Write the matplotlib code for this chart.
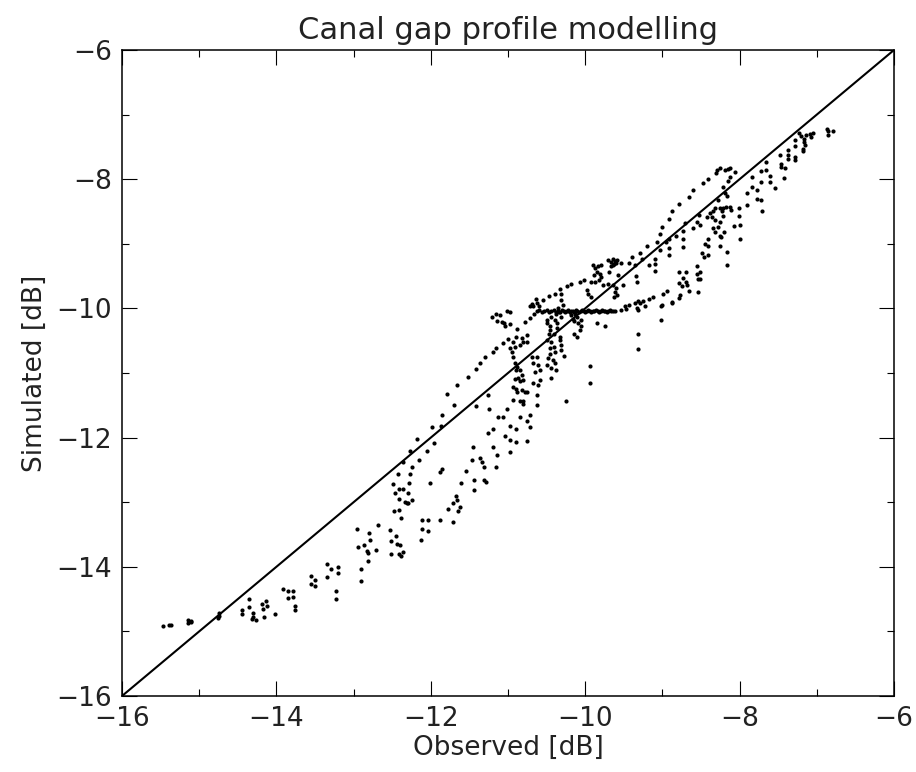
import numpy as np
import matplotlib.pyplot as plt
from matplotlib.ticker import MultipleLocator

# low tail (obs < -13.3 dB)
tail_obs = [-15.47, -15.39, -15.36, -15.14, -15.11, -15.14, -15.11,
            -14.76, -14.74, -14.75, -14.45, -14.45, -14.35, -14.35,
            -14.30, -14.30, -14.31, -14.27, -14.19, -14.18, -14.13, -14.12, -14.16,
            -14.02, -13.91, -13.85, -13.79, -13.85, -13.79, -13.76, -13.76,
            -13.55, -13.50, -13.55, -13.50, -13.35, -13.29, -13.20, -13.20, -13.35,
            -13.23, -13.23, -12.90, -12.90, -12.81]
tail_sim = [-14.92, -14.90, -14.90, -14.83, -14.84, -14.87, -14.86,
            -14.79, -14.72, -14.76, -14.67, -14.73, -14.50, -14.62,
            -14.71, -14.78, -14.81, -14.82, -14.58, -14.65, -14.53, -14.61, -14.78,
            -14.73, -14.35, -14.38, -14.38, -14.48, -14.46, -14.60, -14.67,
            -14.15, -14.20, -14.27, -14.29, -13.95, -14.03, -14.00, -14.10, -14.16,
            -14.38, -14.50, -14.04, -14.22, -13.91]

# lower band, -13 .. -11.5 dB
low_obs = [-11.98, -11.87, -12.18, -11.96, -12.27, -12.05, -12.36, -12.15, -12.24,
           -12.42, -12.27, -12.49, -12.28, -12.41, -12.36, -12.46, -12.30, -12.25,
           -12.33, -12.31, -12.29, -12.41, -12.48, -12.41, -12.38,
           -11.88, -11.85, -12.01, -12.11, -12.04, -12.12, -12.04, -12.13, -11.88,
           -12.68, -12.95, -12.80, -12.79, -12.87, -12.94, -12.83, -12.81, -12.71,
           -12.53, -12.52, -12.52, -12.45, -12.44, -12.40, -12.41, -12.39, -12.36,
           -11.78, -11.71, -11.67, -11.66, -11.65, -11.62, -11.71, -11.61, -11.55,
           -11.44, -11.44, -11.34, -11.31, -11.31, -11.29, -11.15]
low_sim = [-11.83, -11.82, -12.02, -12.08, -12.21, -12.21, -12.38, -12.34, -12.46,
           -12.57, -12.57, -12.72, -12.71, -12.80, -12.80, -12.85, -12.86, -12.97,
           -12.99, -13.02, -13.01, -12.95, -13.13, -13.12, -13.25,
           -12.53, -12.49, -12.70, -13.28, -13.27, -13.41, -13.44, -13.58, -13.28,
           -13.36, -13.42, -13.47, -13.58, -13.66, -13.70, -13.75, -13.79, -13.74,
           -13.43, -13.60, -13.80, -13.53, -13.64, -13.66, -13.80, -13.83, -13.77,
           -13.10, -13.01, -12.90, -12.96, -13.14, -13.07, -13.30, -12.71, -12.51,
           -12.65, -12.81, -12.37, -12.45, -12.65, -12.68, -12.46]

# centre, -11.9 .. -9.5 dB
mid_obs = [-11.85, -11.70, -11.79, -11.66, -11.52, -11.42, -11.36, -11.30, -11.20,
           -11.16, -11.07, -11.00, -10.88, -10.78, -10.72, -10.66,
           -10.64, -10.55, -10.47, -10.39, -10.33, -10.31, -10.23, -10.18, -10.07,
           -10.02, -10.31, -10.29, -10.35, -9.97, -9.92, -9.98,
           -10.72, -10.67, -10.60, -10.69, -10.63,
           -11.21, -11.15, -11.10, -11.08, -11.14, -11.05, -11.01, -10.97, -11.04, -10.98,
           -10.50, -10.49, -10.46, -10.44, -10.39, -10.38, -10.37, -10.34, -10.31,
           -10.46, -10.47, -10.41, -10.37,
           -10.20, -10.18, -10.16, -10.13, -10.11, -10.15, -10.09, -10.05, -10.15,
           -10.11, -10.05, -10.07, -9.85, -9.74, -9.94, -9.94, -10.25,
           -10.49, -10.44, -10.46, -10.41, -10.39, -10.46, -10.48, -10.42, -10.39,
           -10.44, -10.38, -10.50, -10.44, -10.33, -10.31, -10.31, -10.28, -10.32,
           -10.97, -10.95, -10.94, -10.91, -10.93, -10.85, -10.89, -10.82, -10.80,
           -10.76, -10.75, -10.91, -10.88, -10.85, -10.82, -10.87, -10.80, -10.91,
           -10.94, -10.89, -10.88, -10.82, -10.78, -10.76, -10.89, -10.85,
           -10.69, -10.63, -10.67, -10.61, -10.65, -10.59, -10.68, -10.61, -10.63, -10.59,
           -11.26, -11.41, -11.24, -11.13, -11.06, -11.01, -10.97, -10.89, -10.84,
           -10.81, -10.72, -10.75, -10.71, -11.20, -11.26, -11.04, -10.97, -10.89,
           -10.75, -10.63, -11.19, -11.45, -11.14, -10.97, -11.36, -11.47,
           -10.93, -10.85, -10.81]
mid_sim = [-11.65, -11.49, -11.33, -11.19, -11.06, -10.94, -10.85, -10.76, -10.67,
           -10.62, -10.54, -10.48, -10.32, -10.21, -10.15, -10.09,
           -9.86, -9.87, -9.81, -9.77, -9.70, -9.77, -9.65, -9.62, -9.59,
           -9.56, -9.87, -9.95, -9.99, -9.77, -9.82, -9.72,
           -9.97, -9.96, -9.97, -9.93, -9.91,
           -10.14, -10.08, -10.10, -10.21, -10.19, -10.23, -10.04, -10.05, -10.28, -10.24,
           -10.18, -10.23, -10.28, -10.13, -10.18, -10.08, -10.23, -10.05, -10.13,
           -10.33, -10.39, -10.39, -10.31,
           -10.05, -10.10, -10.17, -10.08, -10.14, -10.19, -10.23, -10.18, -10.39,
           -10.44, -10.28, -10.33, -10.23, -10.27, -10.89, -11.16, -11.44,
           -10.49, -10.52, -10.62, -10.59, -10.67, -10.70, -10.77, -10.80, -10.85,
           -10.93, -10.95, -10.88, -11.08, -10.49, -10.57, -10.64, -10.74, -10.44,
           -10.62, -10.67, -10.75, -10.59, -10.52, -10.57, -10.44, -10.46, -10.52,
           -10.52, -10.41, -10.85, -10.91, -10.96, -11.03, -11.08, -11.11, -11.10,
           -11.21, -11.24, -11.29, -11.26, -11.29, -11.30, -10.95, -11.12,
           -10.75, -10.75, -10.85, -10.88, -10.98, -10.95, -11.16, -11.19, -11.34, -11.11,
           -11.34, -11.51, -11.55, -11.68, -11.68, -11.55, -11.82, -11.87, -11.68,
           -11.44, -11.65, -11.75, -11.83, -11.86, -11.93, -11.98, -12.04, -12.07,
           -12.06, -11.50, -12.14, -12.14, -12.27, -12.23, -12.32, -12.34,
           -11.42, -11.44, -11.48]

# flat run near -10 dB simulated
flat_obs = [-10.63, -10.60, -10.56, -10.53, -10.50, -10.47, -10.44, -10.41, -10.38,
            -10.35, -10.32, -10.30, -10.28, -10.26, -10.24, -10.22, -10.20, -10.18,
            -10.16, -10.14, -10.12, -10.10, -10.08, -10.06, -10.04, -10.02, -10.00,
            -9.98, -9.96, -9.94, -9.92, -9.90, -9.88, -9.86, -9.84, -9.82, -9.80,
            -9.78, -9.76, -9.74, -9.72, -9.70, -9.68, -9.66, -9.64, -9.62]
flat_sim = [-10.04, -10.03, -10.05, -10.04, -10.03, -10.05, -10.04, -10.03, -10.05,
            -10.04, -10.05, -10.03, -10.04, -10.05, -10.04, -10.03, -10.05, -10.04,
            -10.04, -10.05, -10.03, -10.04, -10.05, -10.04, -10.03, -10.04, -10.05,
            -10.04, -10.03, -10.04, -10.05, -10.04, -10.04, -10.03, -10.04, -10.05,
            -10.04, -10.03, -10.04, -10.04, -10.05, -10.04, -10.03, -10.04, -10.04, -10.04]

# -9.9 .. -8.1 dB
up_obs = [-9.90, -9.87, -9.85, -9.89, -9.83, -9.81, -9.80, -9.92, -9.87, -9.82,
          -9.79, -9.77, -9.70, -9.67, -9.64, -9.61, -9.59, -9.64, -9.60, -9.63,
          -9.54, -9.69, -9.66, -9.57, -9.70,
          -9.51, -9.43, -9.40, -9.36, -9.34, -9.33, -9.29, -9.27, -9.20, -9.17,
          -9.10, -9.10, -9.10, -9.07, -9.03, -8.92, -8.92, -8.95, -8.73,
          -9.64, -9.61, -9.59, -9.63, -9.60, -9.32, -9.32, -9.02,
          -9.54, -9.49, -9.47, -9.43, -9.36, -9.33, -9.31, -9.31, -9.29, -9.25,
          -9.23, -9.18, -9.12, -9.02, -9.01, -8.99, -8.94, -8.88, -8.87, -8.79,
          -8.69, -8.77, -8.78, -8.74, -8.73, -8.69, -8.68, -8.66, -8.79, -8.55,
          -8.51, -8.54, -8.51, -8.55, -8.49, -8.46, -8.41, -8.45, -8.41, -8.54,
          -8.25, -8.16, -8.16]
up_sim = [-9.33, -9.38, -9.43, -9.48, -9.35, -9.46, -9.33, -9.59, -9.59, -9.56,
          -9.51, -9.64, -9.25, -9.28, -9.24, -9.26, -9.25, -9.33, -9.30, -9.31,
          -9.29, -9.43, -9.35, -9.48, -9.62,
          -9.64, -9.29, -9.21, -9.33, -9.50, -9.59, -9.15, -9.24, -9.04, -9.33,
          -9.23, -9.31, -9.42, -8.97, -9.10, -9.18, -9.07, -8.97, -9.05,
          -9.64, -9.74, -9.79, -9.82, -9.69, -10.40, -10.63, -10.18,
          -10.03, -9.96, -10.01, -9.95, -9.92, -9.99, -10.03, -9.89, -9.91, -9.89,
          -9.97, -9.86, -9.83, -9.96, -9.95, -9.78, -9.73, -9.90, -9.92, -9.43,
          -9.44, -9.79, -9.84, -9.66, -9.53, -9.59, -9.64, -9.73, -9.61, -9.46,
          -9.44, -9.55, -9.55, -9.34, -9.15, -9.21, -9.17, -9.01, -9.03, -9.75,
          -9.03, -9.12, -9.33]

# top right, obs > -9 dB
top_obs = [-9.00, -8.92, -8.88, -8.79, -8.65, -8.61, -8.47, -8.41, -8.31, -8.29,
           -8.25, -8.19, -8.15, -8.12, -8.06, -8.12, -8.15, -8.21, -8.19, -8.16,
           -8.28, -8.32, -8.34, -8.38, -8.42, -8.53, -8.55, -8.60, -8.71, -8.73,
           -8.82, -8.92, -8.51, -8.73, -9.03,
           -8.36, -8.32, -8.25, -8.22, -8.17, -8.13, -8.11, -8.23, -8.21, -8.26,
           -8.34, -8.28, -8.32, -8.25, -8.20, -8.07, -8.00, -8.01, -8.01, -8.00,
           -8.41, -8.24,
           -7.91, -7.90, -7.84, -7.84, -7.78, -7.78, -7.72, -7.71, -7.72, -7.72,
           -7.66, -7.66, -7.61, -7.61, -7.54, -7.48, -7.47, -7.46, -7.41, -7.42,
           -7.37, -7.37, -7.37, -7.28, -7.28, -7.28, -7.28, -7.18, -7.18, -7.23,
           -7.20, -7.17, -7.15, -7.14, -7.17, -7.09, -7.07, -7.05, -6.87, -6.85,
           -6.85, -6.79]
top_sim = [-8.74, -8.61, -8.49, -8.38, -8.27, -8.17, -8.06, -7.99, -7.91, -7.86,
           -7.82, -7.85, -7.84, -7.83, -7.89, -7.96, -8.03, -8.12, -8.21, -8.26,
           -8.32, -8.45, -8.49, -8.53, -8.59, -8.55, -8.66, -8.75, -8.68, -8.80,
           -8.88, -8.92, -8.71, -8.92, -8.85,
           -8.58, -8.63, -8.45, -8.44, -8.43, -8.43, -8.48, -8.50, -8.57, -8.66,
           -8.75, -8.74, -8.81, -8.88, -8.81, -8.73, -8.71, -8.44, -8.57, -8.92,
           -8.92, -8.89,
           -8.22, -8.40, -8.12, -7.96, -8.17, -8.30, -8.32, -8.50, -8.04, -7.88,
           -7.85, -7.73, -7.95, -8.04, -8.14, -7.63, -7.76, -7.81, -7.83, -7.98,
           -7.55, -7.63, -7.69, -7.40, -7.49, -7.65, -7.70, -7.54, -7.57, -7.29,
           -7.33, -7.42, -7.47, -7.31, -7.38, -7.30, -7.35, -7.28, -7.23, -7.25,
           -7.32, -7.26]

observed = np.concatenate([tail_obs, low_obs, mid_obs, flat_obs, up_obs, top_obs])
simulated = np.concatenate([tail_sim, low_sim, mid_sim, flat_sim, up_sim, top_sim])

lims = [-16, -6]

fig = plt.figure(figsize=(9.16, 7.72), dpi=100)
ax = fig.add_axes([122/916, 1 - 696/772, 772/916, 646/772])

ax.plot(observed, simulated, 'o', color='k', ms=3.0, mew=0)
ax.plot(lims, lims, color='k', lw=1.5)

ax.set_xlim(lims)
ax.set_ylim(lims)
ax.xaxis.set_major_locator(MultipleLocator(2))
ax.xaxis.set_minor_locator(MultipleLocator(1))
ax.yaxis.set_major_locator(MultipleLocator(2))
ax.yaxis.set_minor_locator(MultipleLocator(1))
ax.tick_params(which='both', direction='in', top=True, right=True, width=0.8,
               labelsize=19, labelcolor='#222222')
ax.tick_params(which='major', length=11, pad=7)
ax.tick_params(which='minor', length=5)
for s in ax.spines.values():
    s.set_linewidth(1.1)

ax.set_title("Canal gap profile modelling", fontsize=22, color='#222222', pad=8)
ax.set_xlabel("Observed [dB]", fontsize=19, color='#222222', labelpad=2)
ax.set_ylabel("Simulated [dB]", fontsize=19, color='#222222', labelpad=6)

fig.savefig("out.png", dpi=100)
